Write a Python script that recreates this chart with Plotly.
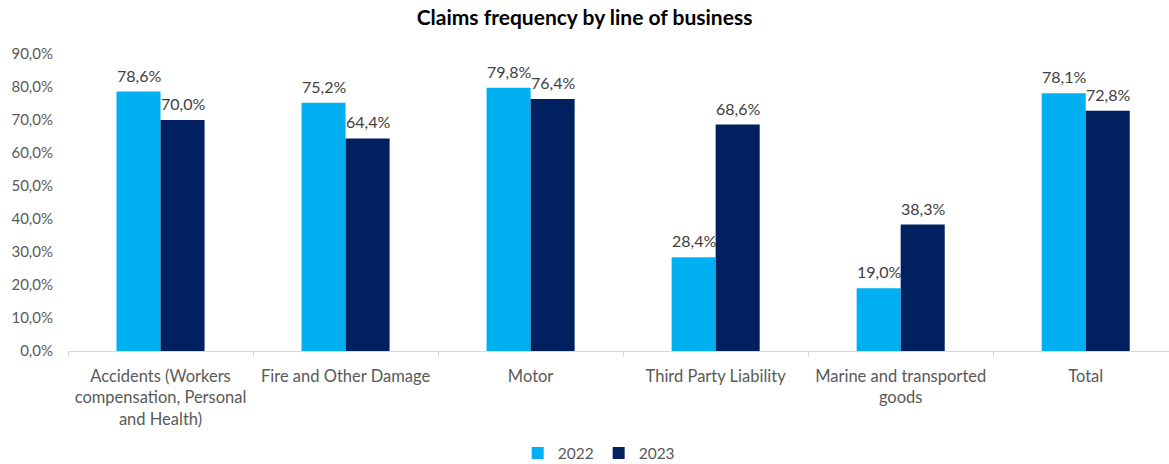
import plotly.graph_objects as go

categories = [
    "Accidents (Workers<br>compensation, Personal<br>and Health)",
    "Fire and Other Damage",
    "Motor",
    "Third Party Liability",
    "Marine and transported<br>goods",
    "Total",
]
values_2022 = [78.6, 75.2, 79.8, 28.4, 19.0, 78.1]
values_2023 = [70.0, 64.4, 76.4, 68.6, 38.3, 72.8]
y_ticks = [0, 10, 20, 30, 40, 50, 60, 70, 80, 90]

FONT = "Lato, 'Open Sans', sans-serif"
BAR_PX = 44  # approximate pixel width of one bar, used to centre labels


def fmt(v):
    return f"{v:.1f}%".replace(".", ",")


fig = go.Figure()
series = [
    ("2022", values_2022, "#00B0F0", -1),
    ("2023", values_2023, "#002060", 1),
]
for name, vals, color, side in series:
    fig.add_trace(go.Bar(
        name=name,
        x=categories,
        y=vals,
        marker=dict(color=color, line=dict(width=0)),
    ))
    for cat, v in zip(categories, vals):
        fig.add_annotation(
            x=cat, y=v, text=fmt(v), showarrow=False,
            xanchor="center", yanchor="bottom",
            xshift=side * BAR_PX / 2, yshift=5,
            font=dict(family=FONT, size=16, color="#404040"),
        )

fig.update_layout(
    width=1169,
    height=464,
    margin=dict(l=68, r=0, t=54, b=113, autoexpand=False),
    paper_bgcolor="white",
    plot_bgcolor="white",
    barmode="group",
    bargap=0.524,
    bargroupgap=0,
    title=dict(
        text="<b>Claims frequency by line of business</b>",
        x=0.5, xanchor="center", y=0.962, yanchor="middle",
        font=dict(family=FONT, size=21, color="#000000"),
    ),
    font=dict(family=FONT, size=15, color="#595959"),
    legend=dict(
        orientation="h", x=0.482, xanchor="center", y=-0.345, yanchor="middle",
        font=dict(family=FONT, size=15.5, color="#595959"),
        itemwidth=30,
    ),
    showlegend=True,
)

fig.update_xaxes(
    type="category",
    range=[-0.5, 5.45],
    automargin=False,
    showline=True, linecolor="#D9D9D9", linewidth=1,
    ticks="outside", tickson="boundaries", ticklen=5, tickcolor="#D9D9D9",
    tickfont=dict(family=FONT, size=16.5, color="#595959"),
    ticklabelstandoff=10,
    showgrid=False,
)
fig.update_yaxes(
    automargin=False,
    range=[0, 90],
    tickvals=y_ticks,
    ticktext=[fmt(t) for t in y_ticks],
    showgrid=False, zeroline=False, showline=False,
    tickfont=dict(family=FONT, size=15, color="#595959"),
    ticklabelstandoff=14,
)

fig.write_html("out.html")
